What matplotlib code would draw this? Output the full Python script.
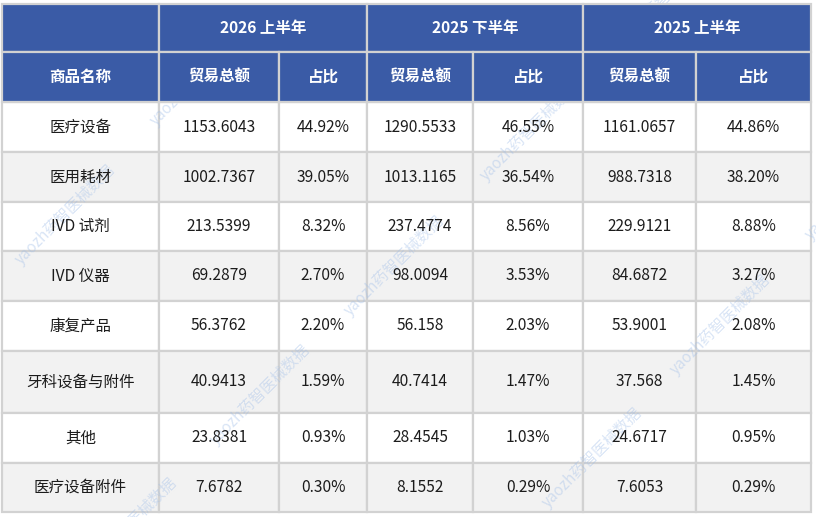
import matplotlib
matplotlib.use("Agg")
import matplotlib.pyplot as plt
from matplotlib.patches import Rectangle

plt.rcParams['font.family'] = ['Noto Sans CJK SC', 'DejaVu Sans']

# ---- data ----
periods = ["2026 上半年", "2025 下半年", "2025 上半年"]
sub_headers = ["贸易总额", "占比"]
first_header = "商品名称"
categories = ["医疗设备", "医用耗材", "IVD 试剂", "IVD 仪器", "康复产品",
              "牙科设备与附件", "其他", "医疗设备附件"]
amount_2026h1 = ["1153.6043", "1002.7367", "213.5399", "69.2879", "56.3762",
                 "40.9413", "23.8381", "7.6782"]
share_2026h1 = ["44.92%", "39.05%", "8.32%", "2.70%", "2.20%", "1.59%", "0.93%", "0.30%"]
amount_2025h2 = ["1290.5533", "1013.1165", "237.4774", "98.0094", "56.158",
                 "40.7414", "28.4545", "8.1552"]
share_2025h2 = ["46.55%", "36.54%", "8.56%", "3.53%", "2.03%", "1.47%", "1.03%", "0.29%"]
amount_2025h1 = ["1161.0657", "988.7318", "229.9121", "84.6872", "53.9001",
                 "37.568", "24.6717", "7.6053"]
share_2025h1 = ["44.86%", "38.20%", "8.88%", "3.27%", "2.08%", "1.45%", "0.95%", "0.29%"]

watermark = "yaozh药智医械数据"

# ---- layout (pixels) ----
col_edges = [2, 159, 279, 367, 473, 583, 696, 811]
row_edges = [4, 52, 102, 152, 202, 251, 301, 351, 413, 463, 512]
wm_starts = [(18, 262), (153, 123), (80, 575), (213, 442), (347, 313), (483, 178),
             (618, 45), (545, 505), (673, 372), (808, 237)]

header_blue = "#3a5ba6"
grid_grey = "#d2d2d2"
stripe = "#f2f2f2"

fig = plt.figure(figsize=(8.16, 5.17), dpi=100)
ax = fig.add_axes([0, 0, 1, 1])
ax.set_xlim(0, 816)
ax.set_ylim(517, 0)
ax.axis("off")

def cell(x0, x1, y0, y1, face, text=None, bold=False, color="#1c1c1c", z=1):
    ax.add_patch(Rectangle((x0, y0), x1 - x0, y1 - y0, facecolor=face,
                           edgecolor=grid_grey, linewidth=1.6, zorder=z))
    if text is not None:
        ax.text((x0 + x1) / 2, (y0 + y1) / 2, text, ha="center", va="center",
                fontsize=11.2, color=color, fontweight="bold" if bold else "normal",
                zorder=6)

# header row 1 (drawn above the watermark)
cell(col_edges[0], col_edges[1], row_edges[0], row_edges[1], header_blue, z=5)
for i, p in enumerate(periods):
    cell(col_edges[1 + 2 * i], col_edges[3 + 2 * i], row_edges[0], row_edges[1],
         header_blue, p, bold=True, color="white", z=5)

# header row 2
cell(col_edges[0], col_edges[1], row_edges[1], row_edges[2], header_blue,
     first_header, bold=True, color="white", z=5)
for i in range(len(periods)):
    for j, s in enumerate(sub_headers):
        c = 1 + 2 * i + j
        cell(col_edges[c], col_edges[c + 1], row_edges[1], row_edges[2],
             header_blue, s, bold=True, color="white", z=5)

# body
columns = [categories, amount_2026h1, share_2026h1, amount_2025h2, share_2025h2,
           amount_2025h1, share_2025h1]
for r in range(len(categories)):
    face = "white" if r % 2 == 0 else stripe
    for c, col in enumerate(columns):
        cell(col_edges[c], col_edges[c + 1], row_edges[r + 2], row_edges[r + 3],
             face, col[r])

# watermark
for (x, y) in wm_starts:
    ax.text(x, y, watermark, rotation=45, rotation_mode="anchor", ha="left",
            va="center", fontsize=11, color="#9fbde8", alpha=0.4, zorder=3,
            clip_on=True)

fig.savefig("out.png", dpi=100)
